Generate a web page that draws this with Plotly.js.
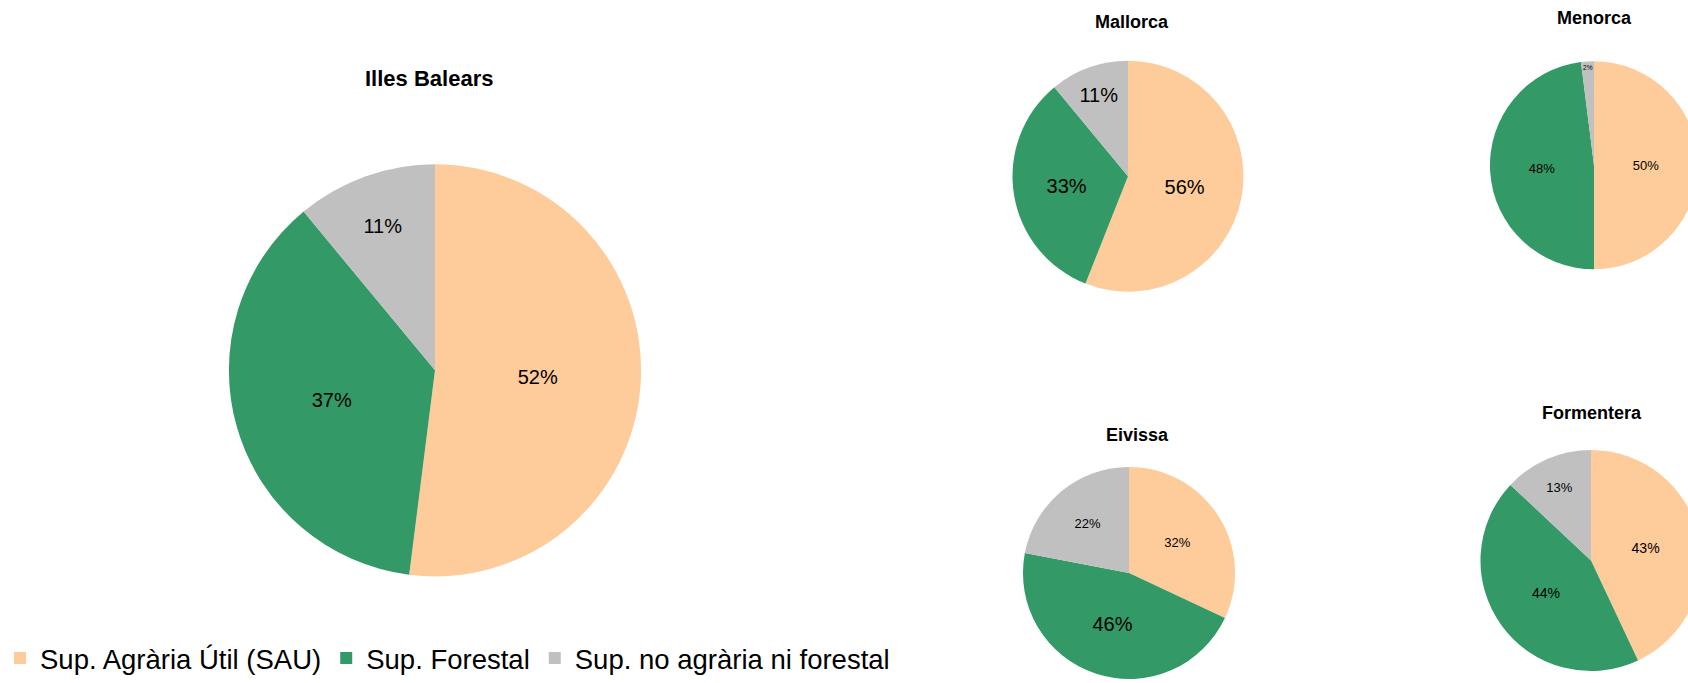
<!DOCTYPE html>
<html>
<head>
<meta charset="utf-8">
<script src="https://cdn.plot.ly/plotly-3.0.1.min.js"></script>
<style>
  html, body { margin: 0; padding: 0; overflow: hidden; background: #fff; width: 1688px; height: 683px; }
  #chart { width: 1704px; height: 683px; }
</style>
</head>
<body>
<div id="chart"></div>
<script>
// ---- Data ----
const categories = ['Sup. Agrària Útil (SAU)', 'Sup. Forestal', 'Sup. no agrària ni forestal'];
const islandNames = ['Illes Balears', 'Mallorca', 'Menorca', 'Eivissa', 'Formentera'];
const illesBalears = [52, 37, 11];
const mallorca = [56, 33, 11];
const menorca = [50, 48, 2];
const eivissa = [32, 46, 22];
const formentera = [43, 44, 13];
const sliceColors = ['#FECC9A', '#339966', '#C0C0C0'];

// ---- Layout helpers ----
const W = 1704, H = 683;
const FONT = '"Liberation Sans", Arial, sans-serif';
function dom(cx, cy, r) {
  return { x: [(cx - r) / W, (cx + r) / W], y: [1 - (cy + r) / H, 1 - (cy - r) / H] };
}
function pieTrace(name, values, domain, sizes, showlegend) {
  return {
    type: 'pie',
    name: name,
    labels: categories,
    values: values,
    sort: false,
    direction: 'clockwise',
    rotation: 0,
    domain: domain,
    marker: { colors: sliceColors, line: { width: 0 } },
    textinfo: 'percent',
    texttemplate: '%{percent:.0%}',
    textposition: 'inside',
    insidetextorientation: 'horizontal',
    textfont: { family: FONT, color: '#000', size: sizes },
    hoverinfo: 'label+percent',
    showlegend: showlegend
  };
}

const data = [
  pieTrace(islandNames[0], illesBalears, dom(435, 372, 207), [20, 20, 20], true),
  pieTrace(islandNames[1], mallorca, dom(1128, 177, 116), [20, 20, 20], false),
  pieTrace(islandNames[2], menorca, dom(1594, 166, 104.5), [13, 13, 13], false),
  pieTrace(islandNames[3], eivissa, dom(1129, 575.5, 106.5), [13, 20, 13], false),
  pieTrace(islandNames[4], formentera, dom(1591, 563, 111), [14, 14, 13], false)
];

function titleAnn(text, px, py, size) {
  return {
    text: '<b>' + text + '</b>', xref: 'paper', yref: 'paper',
    x: px / W, y: 1 - py / H, xanchor: 'center', yanchor: 'middle',
    showarrow: false, font: { family: FONT, size: size, color: '#000' }
  };
}

const layout = {
  width: W, height: H,
  margin: { l: 0, r: 0, t: 0, b: 0 },
  paper_bgcolor: '#fff',
  font: { family: FONT, color: '#000' },
  showlegend: true,
  legend: {
    orientation: 'h', x: 0, xanchor: 'left', y: 1 - 661 / H, yanchor: 'middle',
    font: { family: FONT, size: 27.5, color: '#000' },
    traceorder: 'normal', bgcolor: 'rgba(0,0,0,0)'
  },
  annotations: [
    titleAnn(islandNames[0], 429, 79, 22),
    titleAnn(islandNames[1], 1132, 22, 18),
    titleAnn(islandNames[2], 1594, 18, 18),
    titleAnn(islandNames[3], 1137, 437, 18),
    titleAnn(islandNames[4], 1592, 415, 18)
  ]
};

Plotly.newPlot('chart', data, layout, { displayModeBar: false, staticPlot: true });
</script>
</body>
</html>
